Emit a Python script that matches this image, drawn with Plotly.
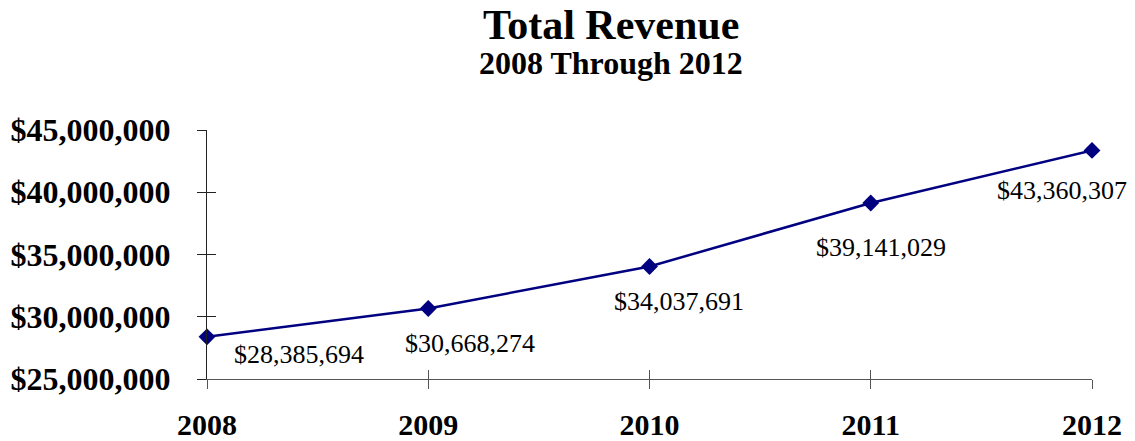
import plotly.graph_objects as go

# Revenue by fiscal year
years = ["2008", "2009", "2010", "2011", "2012"]
revenue = [28385694, 30668274, 34037691, 39141029, 43360307]

# Label offsets (px) relative to each point
label_dx = [92, 42, 29, 10, -30]
label_dy = [-18, -35, -35, -45, -40]

SERIF = "Liberation Serif, Times New Roman, serif"
NAVY = "#000080"

fig = go.Figure()

fig.add_trace(go.Scatter(
    x=years, y=revenue, mode="lines+markers",
    line=dict(color=NAVY, width=2.5),
    marker=dict(symbol="diamond", size=13, color=NAVY),
    cliponaxis=False, hoverinfo="skip", showlegend=False,
))

# invisible twin trace so the overlay axes (inner tick halves) are drawn
fig.add_trace(go.Scatter(
    x=years, y=revenue, xaxis="x2", yaxis="y2", mode="lines",
    line=dict(width=0), opacity=0, hoverinfo="skip", showlegend=False,
))

for i, (y, dx, dy) in enumerate(zip(revenue, label_dx, label_dy)):
    fig.add_annotation(
        xref="x", yref="y", x=i, y=y, text="&#36;" + f"{y:,}",
        showarrow=False, xshift=dx, yshift=dy,
        font=dict(family=SERIF, size=26, color="black"),
    )

fig.add_annotation(
    xref="paper", yref="paper", x=0.4565, y=1.42, yanchor="middle",
    text="<b>Total Revenue</b>", showarrow=False,
    font=dict(family=SERIF, size=42, color="black"),
)
fig.add_annotation(
    xref="paper", yref="paper", x=0.4565, y=1.27, yanchor="middle",
    text="<b>2008 Through 2012</b>", showarrow=False,
    font=dict(family=SERIF, size=32, color="black"),
)

yrange = [25000000, 45000000]
fig.update_layout(
    width=1135, height=441,
    margin=dict(l=207, r=43, t=130, b=62, autoexpand=False),
    paper_bgcolor="white", plot_bgcolor="white",
    xaxis=dict(
        type="category", range=[0, 4], showgrid=False, zeroline=False,
        automargin=False,
        showline=True, linecolor="#555", linewidth=1.3,
        ticks="outside", ticklen=9, tickcolor="#555", tickwidth=1.3,
        tickfont=dict(family=SERIF, size=30, color="black", weight="bold"),
        ticklabelstandoff=10,
    ),
    xaxis2=dict(
        type="category", range=[0, 4], overlaying="x", side="bottom",
        automargin=False,
        showgrid=False, zeroline=False, showline=False, showticklabels=False,
        ticks="inside", ticklen=9, tickcolor="#555", tickwidth=1.3,
    ),
    yaxis=dict(
        range=yrange, dtick=5000000, tickformat="$,.0f",
        automargin=False,
        showgrid=False, zeroline=False,
        showline=True, linecolor="#222", linewidth=1.3,
        ticks="outside", ticklen=9, tickcolor="#222", tickwidth=1.3,
        tickfont=dict(family=SERIF, size=32, color="black", weight="bold"),
        ticklabelstandoff=20,
    ),
    yaxis2=dict(
        range=yrange, dtick=5000000, overlaying="y", side="left",
        automargin=False,
        showgrid=False, zeroline=False, showline=False, showticklabels=False,
        ticks="inside", ticklen=9, tickcolor="#222", tickwidth=1.3,
    ),
)

fig.write_html("out.html")
